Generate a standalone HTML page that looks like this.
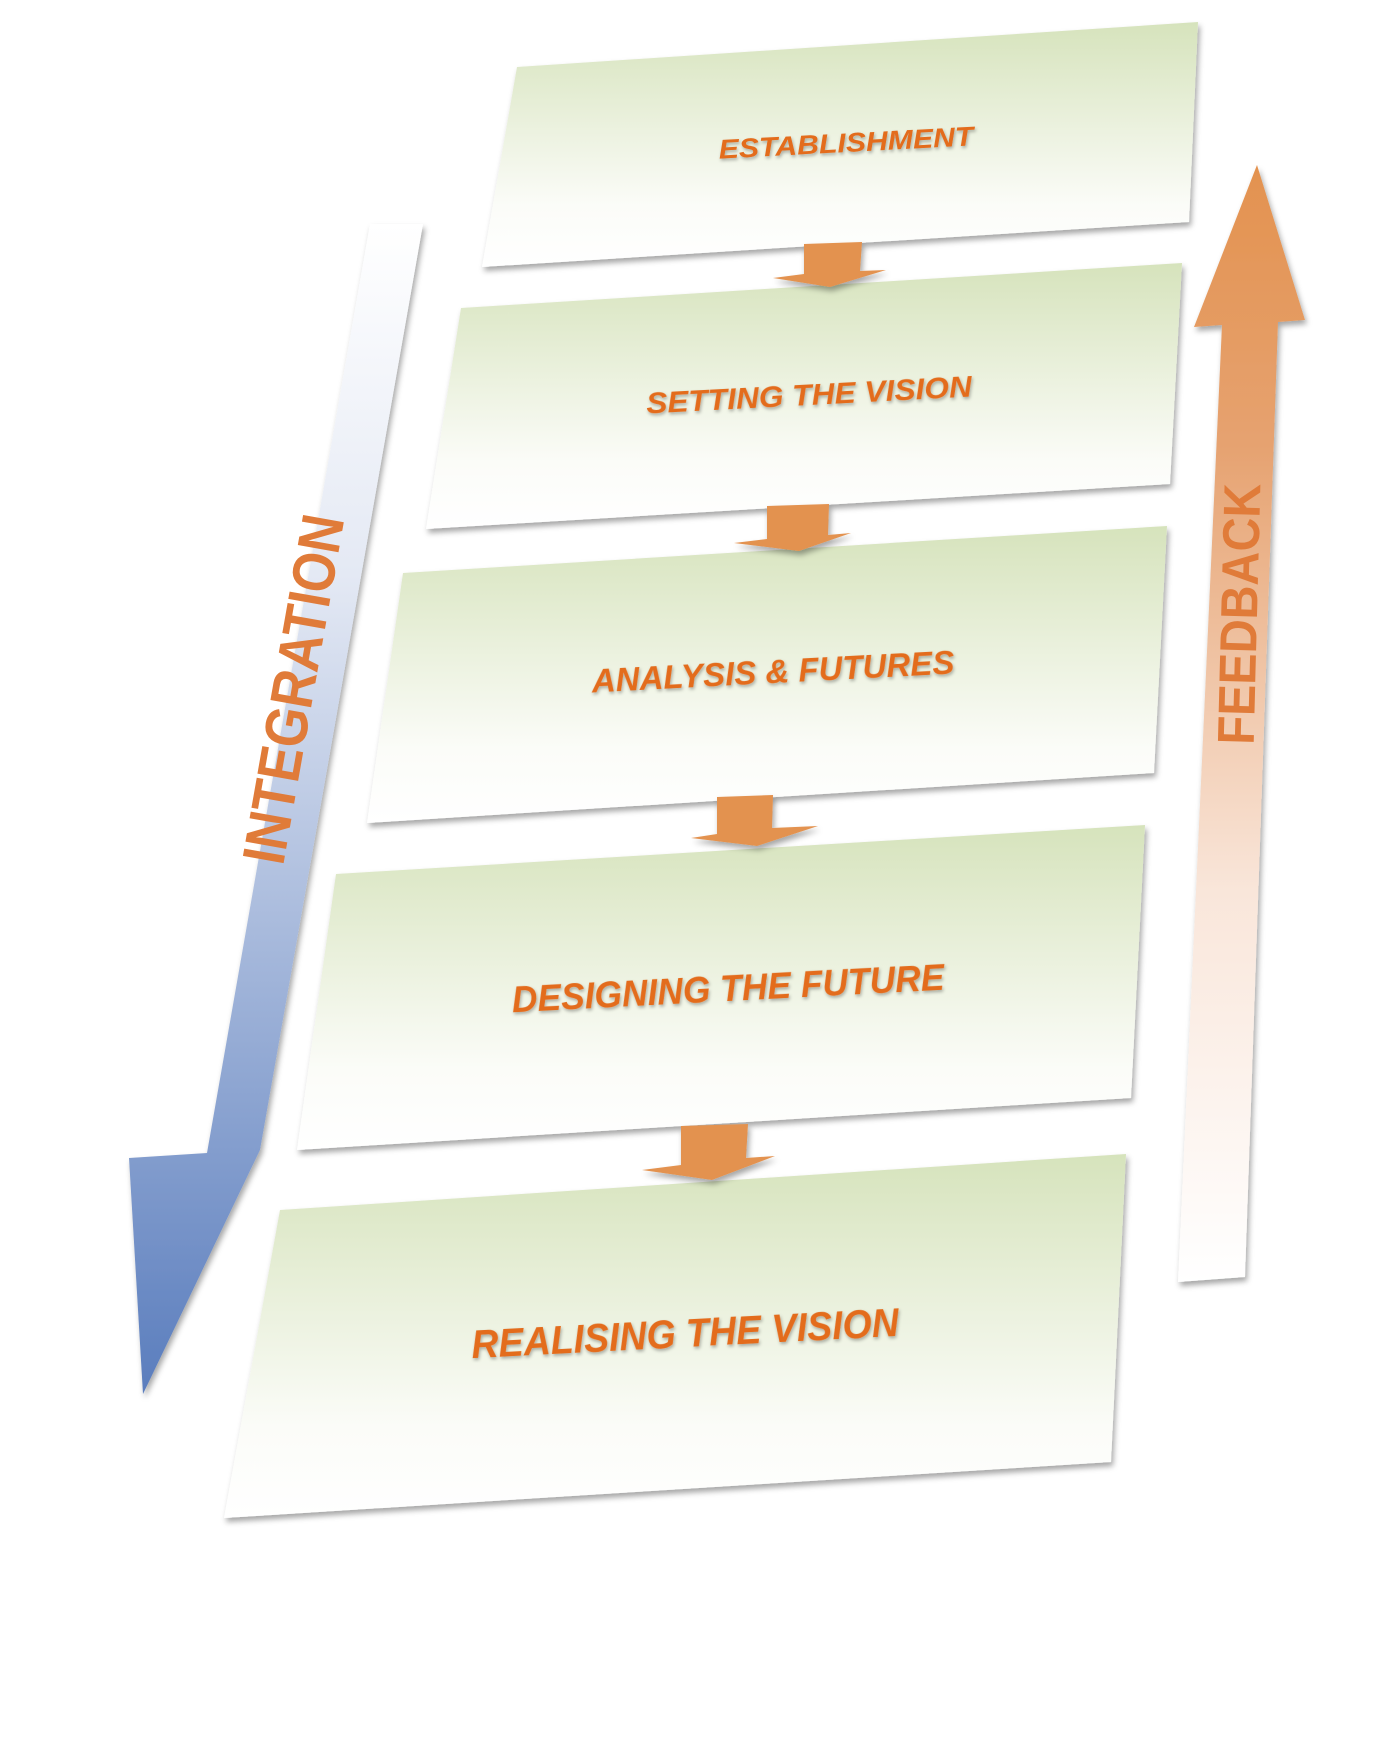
<!DOCTYPE html>
<html><head><meta charset="utf-8"><style>html,body{margin:0;padding:0;background:#fff}svg{display:block}</style></head>
<body>
<svg width="1399" height="1753" viewBox="0 0 1399 1753" xmlns="http://www.w3.org/2000/svg">
<defs>
<linearGradient id="box" x1="0" y1="0" x2="0" y2="1">
<stop offset="0" stop-color="#d6e3bc"/><stop offset="0.75" stop-color="#fbfcf8"/><stop offset="1" stop-color="#ffffff"/>
</linearGradient>
<linearGradient id="blue" x1="0" y1="0" x2="0" y2="1">
<stop offset="0" stop-color="#ffffff"/><stop offset="0.3" stop-color="#e4e9f4"/><stop offset="1" stop-color="#5a7dbd"/>
</linearGradient>
<linearGradient id="org" x1="0" y1="0" x2="0" y2="1">
<stop offset="0" stop-color="#e3924f"/><stop offset="0.25" stop-color="#e6a270"/><stop offset="0.65" stop-color="#f9e6da"/><stop offset="1" stop-color="#ffffff"/>
</linearGradient>
<filter id="sh" x="-10%" y="-10%" width="120%" height="130%"><feDropShadow dx="2" dy="4" stdDeviation="3" flood-color="#000" flood-opacity="0.35"/></filter>
<filter id="ts"><feDropShadow dx="1" dy="2" stdDeviation="1.5" flood-color="#000" flood-opacity="0.3"/></filter>
</defs>

<polygon points="370,224 423,224 260,1150 260,1150 143,1394 129,1158 207,1153" fill="url(#blue)" filter="url(#sh)"/>
<polygon points="1257,165 1305,320 1278,322 1245,1277 1178,1282 1222,325 1194,327" fill="url(#org)" filter="url(#sh)"/>

<polygon points="517,67 1198,22 1189,222 482,267" fill="url(#box)" filter="url(#sh)"/>
<polygon points="461,308 1182,263 1170,484 426,529" fill="url(#box)" filter="url(#sh)"/>
<polygon points="403,573 1167,526 1154,773 367,823" fill="url(#box)" filter="url(#sh)"/>
<polygon points="336,874 1145,825 1131,1098 297,1150" fill="url(#box)" filter="url(#sh)"/>
<polygon points="280,1210 1126,1154 1111,1462 224,1518" fill="url(#box)" filter="url(#sh)"/>

<g fill="#e3924f" filter="url(#sh)">
<polygon points="804,244 862,242 860,271 886,270 830,287 773,278 804,274"/>
<polygon points="767,506 829,504 828,535 851,533 799,551 734,543 767,539"/>
<polygon points="717,797 773,795 772,828 818,826 757,846 691,838 717,834"/>
<polygon points="681,1126 748,1124 746,1158 775,1156 712,1180 642,1170 681,1165"/>
</g>

<g font-family="'Liberation Sans',sans-serif" font-weight="bold" font-style="italic" fill="#e36c1f" text-anchor="middle" filter="url(#ts)">
<text x="846" y="152" font-size="27" textLength="255" lengthAdjust="spacingAndGlyphs" transform="rotate(-3 846 143)">ESTABLISHMENT</text>
<text x="809" y="405" font-size="30" textLength="326" lengthAdjust="spacingAndGlyphs" transform="rotate(-3 809 395)">SETTING THE VISION</text>
<text x="773" y="683" font-size="33" textLength="363" lengthAdjust="spacingAndGlyphs" transform="rotate(-3 773 672)">ANALYSIS &amp; FUTURES</text>
<text x="728" y="1001" font-size="37" textLength="433" lengthAdjust="spacingAndGlyphs" transform="rotate(-3 728 988)">DESIGNING THE FUTURE</text>
<text x="685" y="1347" font-size="40" textLength="428" lengthAdjust="spacingAndGlyphs" transform="rotate(-3 685 1333)">REALISING THE VISION</text>
</g>
<g font-family="'Liberation Sans',sans-serif" font-weight="bold" fill="#e07b39" text-anchor="middle">
<text x="293" y="710" font-size="60" textLength="353" lengthAdjust="spacingAndGlyphs" transform="rotate(-80 293 689)">INTEGRATION</text>
<text x="1238" y="633" font-size="52" textLength="261" lengthAdjust="spacingAndGlyphs" transform="rotate(-88.5 1238 614)">FEEDBACK</text>
</g>
</svg>
</body></html>
